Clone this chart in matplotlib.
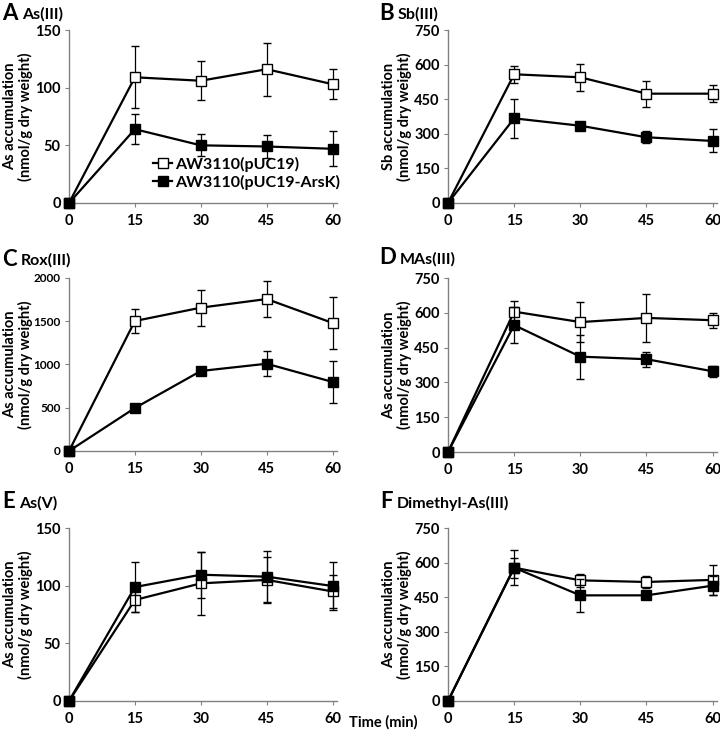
import matplotlib
matplotlib.use("Agg")
import matplotlib.pyplot as plt
from matplotlib.lines import Line2D

plt.rcParams['font.family'] = ['Lato', 'DejaVu Sans']
plt.rcParams['font.weight'] = 'bold'

times = [0, 15, 30, 45, 60]
series_names = ["AW3110(pUC19)", "AW3110(pUC19-ArsK)"]

A_open = [0, 109, 106, 116, 103]
A_open_err = [0, 27, 17, 23, 13]
A_fill = [0, 64, 50, 49, 47]
A_fill_err = [0, 13, 9.5, 10, 15]

B_open = [0, 558, 545, 474, 474]
B_open_err = [0, 38, 58, 56, 36]
B_fill = [0, 367, 335, 285, 269]
B_fill_err = [0, 85, 10, 25, 50]

C_open = [0, 1503, 1657, 1757, 1480]
C_open_err = [0, 143, 208, 208, 303]
C_fill = [0, 497, 925, 1009, 798]
C_fill_err = [0, 45, 30, 145, 248]

D_open = [0, 605, 560, 578, 568]
D_open_err = [0, 45, 88, 105, 32]
D_fill = [0, 547, 411, 400, 348]
D_fill_err = [0, 79, 95, 32, 24]

E_open = [0, 87.6, 102, 105, 95]
E_open_err = [0, 10, 27, 20, 14]
E_fill = [0, 98.8, 109.5, 107.8, 99.7]
E_fill_err = [0, 22, 20, 22, 21]

F_open = [0, 578, 523, 516, 525]
F_open_err = [0, 44, 29, 27, 66]
F_fill = [0, 578, 458, 458, 500]
F_fill_err = [0, 75, 71, 10, 40]

letters = ["A", "B", "C", "D", "E", "F"]
titles = ["As(III)", "Sb(III)", "Rox(III)", "MAs(III)", "As(V)", "Dimethyl-As(III)"]
ylabels = ["As accumulation\n(nmol/g dry weight)",
           "Sb accumulation\n(nmol/g dry weight)",
           "As accumulation\n(nmol/g dry weight)",
           "As accumulation\n(nmol/g dry weight)",
           "As accumulation\n(nmol/g dry weight)",
           "As accumulation\n(nmol/g dry weight)"]
yticks_list = [[0, 50, 100, 150], [0, 150, 300, 450, 600, 750],
               [0, 500, 1000, 1500, 2000], [0, 150, 300, 450, 600, 750],
               [0, 50, 100, 150], [0, 150, 300, 450, 600, 750]]
xticks = [0, 15, 30, 45, 60]

data = [(A_open, A_open_err, A_fill, A_fill_err),
        (B_open, B_open_err, B_fill, B_fill_err),
        (C_open, C_open_err, C_fill, C_fill_err),
        (D_open, D_open_err, D_fill, D_fill_err),
        (E_open, E_open_err, E_fill, E_fill_err),
        (F_open, F_open_err, F_fill, F_fill_err)]

W, H = 720, 739
fig = plt.figure(figsize=(W / 100, H / 100), dpi=100)

# pixel boxes: left, top, right, bottom
boxes = [(69, 30, 337, 203), (448, 30, 717, 203),
         (69, 278, 337, 451), (448, 278, 717, 452),
         (69, 528, 337, 701), (448, 528, 717, 701)]
letter_pos = [(2, 13), (379, 13), (2, 259), (379, 258), (2, 502), (380, 502)]

spine_col = '#808080'
for i, ax_box in enumerate(boxes):
    l, t, r, b = ax_box
    ax = fig.add_axes([l / W, 1 - b / H, (r - l) / W, (b - t) / H])
    yo, yoe, yf, yfe = data[i]
    ax.errorbar(times, yo, yerr=yoe, color='black', lw=1.6, marker='s', ms=6.5,
                mfc='white', mec='black', mew=1.0, ecolor='black', elinewidth=0.9,
                capsize=2.8, capthick=0.9, clip_on=False, zorder=3)
    ax.errorbar(times, yf, yerr=yfe, color='black', lw=1.6, marker='s', ms=6.5,
                mfc='black', mec='black', mew=1.0, ecolor='black', elinewidth=0.9,
                capsize=2.8, capthick=0.9, clip_on=False, zorder=4)
    yt = yticks_list[i]
    ax.set_ylim(yt[0], yt[-1])
    ax.set_xlim(0, 61)
    ax.set_yticks(yt)
    ax.set_xticks(xticks)
    for s in ['top', 'right']:
        ax.spines[s].set_visible(False)
    for s in ['left', 'bottom']:
        ax.spines[s].set_color(spine_col)
        ax.spines[s].set_linewidth(1.0)
    ysz = 8.5 if i == 2 else 10.5
    ax.tick_params(axis='y', direction='out', length=3, color=spine_col,
                   labelsize=ysz, pad=3)
    ax.tick_params(axis='x', direction='out', length=3, color=spine_col,
                   labelsize=10.5, pad=5)
    for lab in ax.get_xticklabels() + ax.get_yticklabels():
        lab.set_fontweight('bold')
    ax.set_ylabel(ylabels[i], fontsize=10.5, fontweight='bold', linespacing=1.1)
    ax.yaxis.set_label_coords(-36 / (r - l), 0.5)

    lx, ly = letter_pos[i]
    lt = fig.text(lx / W, 1 - ly / H, letters[i], fontsize=16, fontweight='bold',
                  va='center', ha='left')
    fig.text(0, 0, titles[i], fontsize=11.5, fontweight='bold',
             va='center', ha='left')
    fig.texts[-1].remove()
    ax.annotate(titles[i], xy=(1, 0.45), xycoords=lt, xytext=(3, 0),
                textcoords='offset points', fontsize=11.5, fontweight='bold',
                va='center', ha='left', annotation_clip=False)

    if i == 0:
        handles = [Line2D([], [], color='black', lw=1.6, marker='s', ms=6.5,
                          mfc='white', mec='black'),
                   Line2D([], [], color='black', lw=1.6, marker='s', ms=6.5,
                          mfc='black', mec='black')]
        ax.legend(handles, series_names, loc='lower right', frameon=False,
                  handlelength=1.2, handletextpad=0.15,
                  borderaxespad=0.1, labelspacing=0.2,
                  bbox_to_anchor=(1.04, 0.03),
                  prop={'weight': 'bold', 'size': 11.5})

fig.text(383 / W, 1 - 722 / H, "Time (min)", fontsize=10.5, fontweight='bold',
         ha='center', va='center')

fig.savefig("out.png", dpi=100)
